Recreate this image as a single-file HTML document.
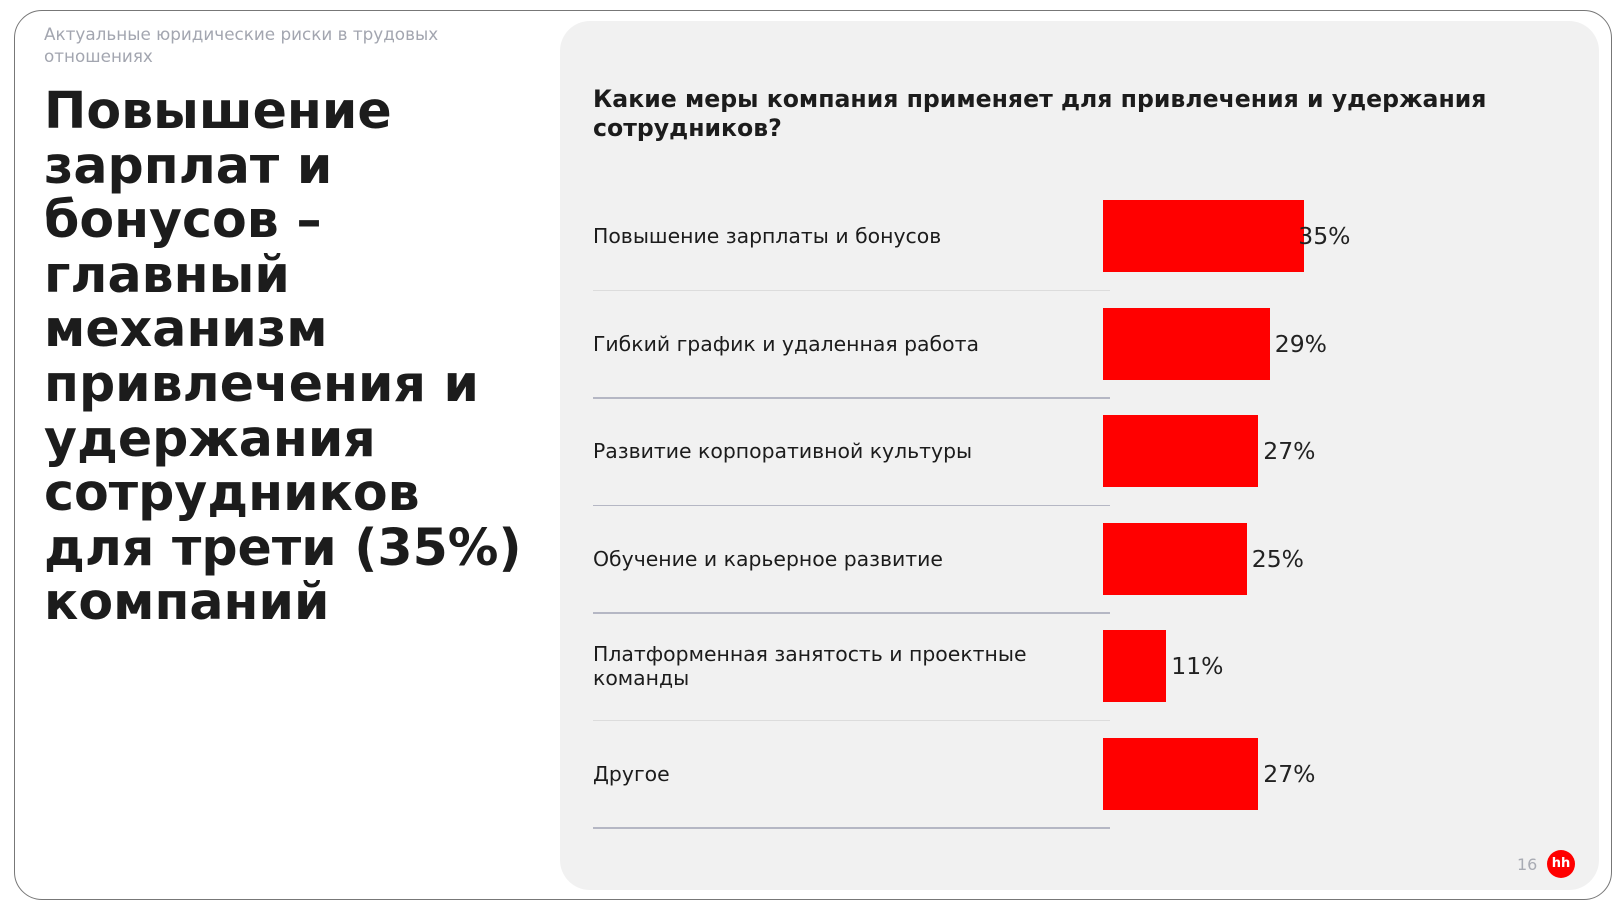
<!DOCTYPE html>
<html><head><meta charset="utf-8"><style>
body{margin:0;width:1621px;height:912px;background:#fff;position:relative;overflow:hidden;font-family:"DejaVu Sans","Liberation Sans",sans-serif}
.abs{position:absolute}
</style></head><body>
<div class="abs" style="left:14px;top:10px;width:1598px;height:890px;border:1.5px solid #777;border-radius:28px;box-sizing:border-box"></div>
<div class="abs" style="left:560px;top:21px;width:1039px;height:869px;background:#f1f1f1;border-radius:30px"></div>
<div class="abs" style="left:44px;top:23px;width:420px;font-size:16.8px;line-height:22px;color:#a3a6b0">Актуальные юридические риски в трудовых отношениях</div>
<div class="abs" style="left:44px;top:84px;width:500px;font-size:50.6px;line-height:54.6px;font-weight:bold;color:#1c1c1c">Повышение зарплат и бонусов – главный механизм привлечения и удержания сотрудников для трети (35%) компаний</div>
<div class="abs" style="left:593px;top:85px;width:960px;font-size:23.6px;line-height:28.5px;font-weight:bold;color:#1c1c1c">Какие меры компания применяет для привлечения и удержания сотрудников?</div>
<div id="chart"></div>
<div class="abs" style="left:1517px;top:855px;font-size:16px;color:#a8abb3">16</div>
<div class="abs" style="left:1547px;top:850px;width:28px;height:28px;border-radius:50%;background:#f00;color:#fff;font-weight:bold;font-size:13px;line-height:27px;text-align:center">hh</div>
<script>
const categories=["Повышение зарплаты и бонусов","Гибкий график и удаленная работа","Развитие корпоративной культуры","Обучение и карьерное развитие","Платформенная занятость и проектные команды","Другое"];
const values=[35,29,27,25,11,27];
const valueLabels=["35%","29%","27%","25%","11%","27%"];
const lineDark=[false,true,true,true,false,true];
const x0=1103,unit=5.75,rowTop=200,rowStep=107.5,barH=72;
const xs=v=>v*unit;
const c=document.getElementById('chart');
categories.forEach((cat,i)=>{
  const y=rowTop+i*rowStep;
  const lab=document.createElement('div');
  lab.className='abs';
  
  
  lab.style.cssText=`left:593px;top:${y}px;height:${barH}px;width:460px;display:flex;align-items:center;font-size:20.4px;line-height:24px;color:#1c1c1c`;
  lab.textContent=cat;c.appendChild(lab);
  const bar=document.createElement('div');
  bar.className='abs';
  
  
  bar.style.cssText=`left:${x0}px;top:${y}px;width:${xs(values[i])}px;height:${barH}px;background:#ff0000`;
  c.appendChild(bar);
  const v=document.createElement('div');
  v.className='abs';
  
  
  v.style.cssText=`left:${x0+xs(values[i])+(i==0?-6:5)}px;top:${y+barH/2-15}px;font-size:23.5px;line-height:30px;color:#222`;
  v.textContent=valueLabels[i];c.appendChild(v);
  const ln=document.createElement('div');
  ln.className='abs';
  
  
  ln.style.cssText=`left:593px;top:${y+89.5}px;width:517px;height:1.5px;background:${lineDark[i]?'#b5b7c4':'#dcdcdc'}`;
  c.appendChild(ln);
});
</script>
</body></html>
